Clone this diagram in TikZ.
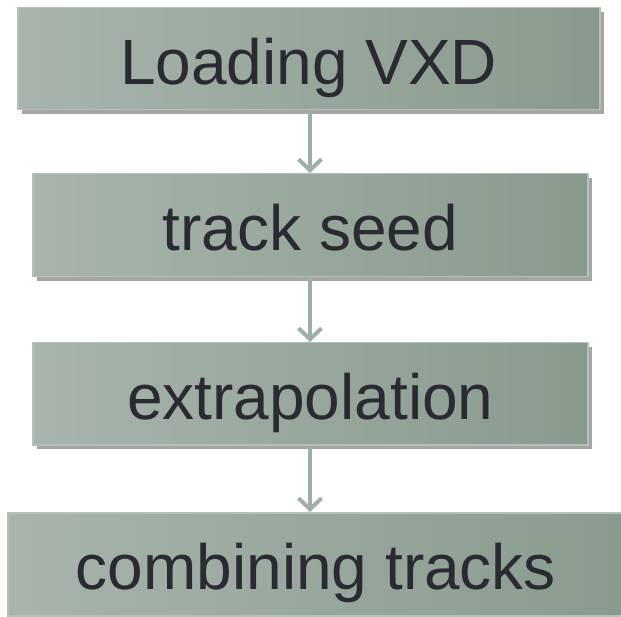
\documentclass[tikz,border=0pt]{standalone}
\usepackage{fontspec}
\setmainfont{Liberation Sans}
\usetikzlibrary{arrows.meta,shadows,calc}
\definecolor{boxL}{HTML}{A8B4AC}
\definecolor{boxR}{HTML}{889A8D}
\definecolor{boxEdge}{HTML}{B4C0B8}
\definecolor{txt}{HTML}{2B2A33}
\definecolor{arr}{HTML}{9EAFA6}
\begin{document}
\begin{tikzpicture}[x=1pt,y=-1pt,
  label/.style={font=\fontsize{64}{70}\selectfont, text=txt, text height=51pt, text depth=0pt},
  stepbox/.style={label, draw=boxEdge, line width=1.5pt, left color=boxL, right color=boxR,
    shading angle=90, inner sep=0pt, anchor=north west,
    drop shadow={shadow xshift=4pt, shadow yshift=-4pt, opacity=0.5, fill=black!70}},
  flow/.style={draw=arr, line width=4pt, -{Straight Barb[length=11pt,width=23pt]}}]
\useasboundingbox (0,0) rectangle (621,617);
\begin{scope}
\clip (0,0) rectangle (621,617);
\node[stepbox, minimum width=582pt, minimum height=102pt] (b1) at (17,7) {Loading VXD};
\node[stepbox, minimum width=555pt, minimum height=103pt] (b2) at (32,173) {track seed};
\node[stepbox, minimum width=555pt, minimum height=102pt] (b3) at (32,342) {extrapolation};
\node[stepbox, minimum width=630pt, minimum height=103pt] (b4) at (7,512) {};
\node[label] (t4) at (316,563.5) {combining tracks};
\end{scope}
\draw[flow] ($(b1.south west)+(293,0)$) coordinate (a1) -- (a1 |- b2.north);
\draw[flow] ($(b2.south west)+(278,0)$) coordinate (a2) -- (a2 |- b3.north);
\draw[flow] ($(b3.south west)+(278,0)$) coordinate (a3) -- (a3 |- b4.north);
\end{tikzpicture}
\end{document}
